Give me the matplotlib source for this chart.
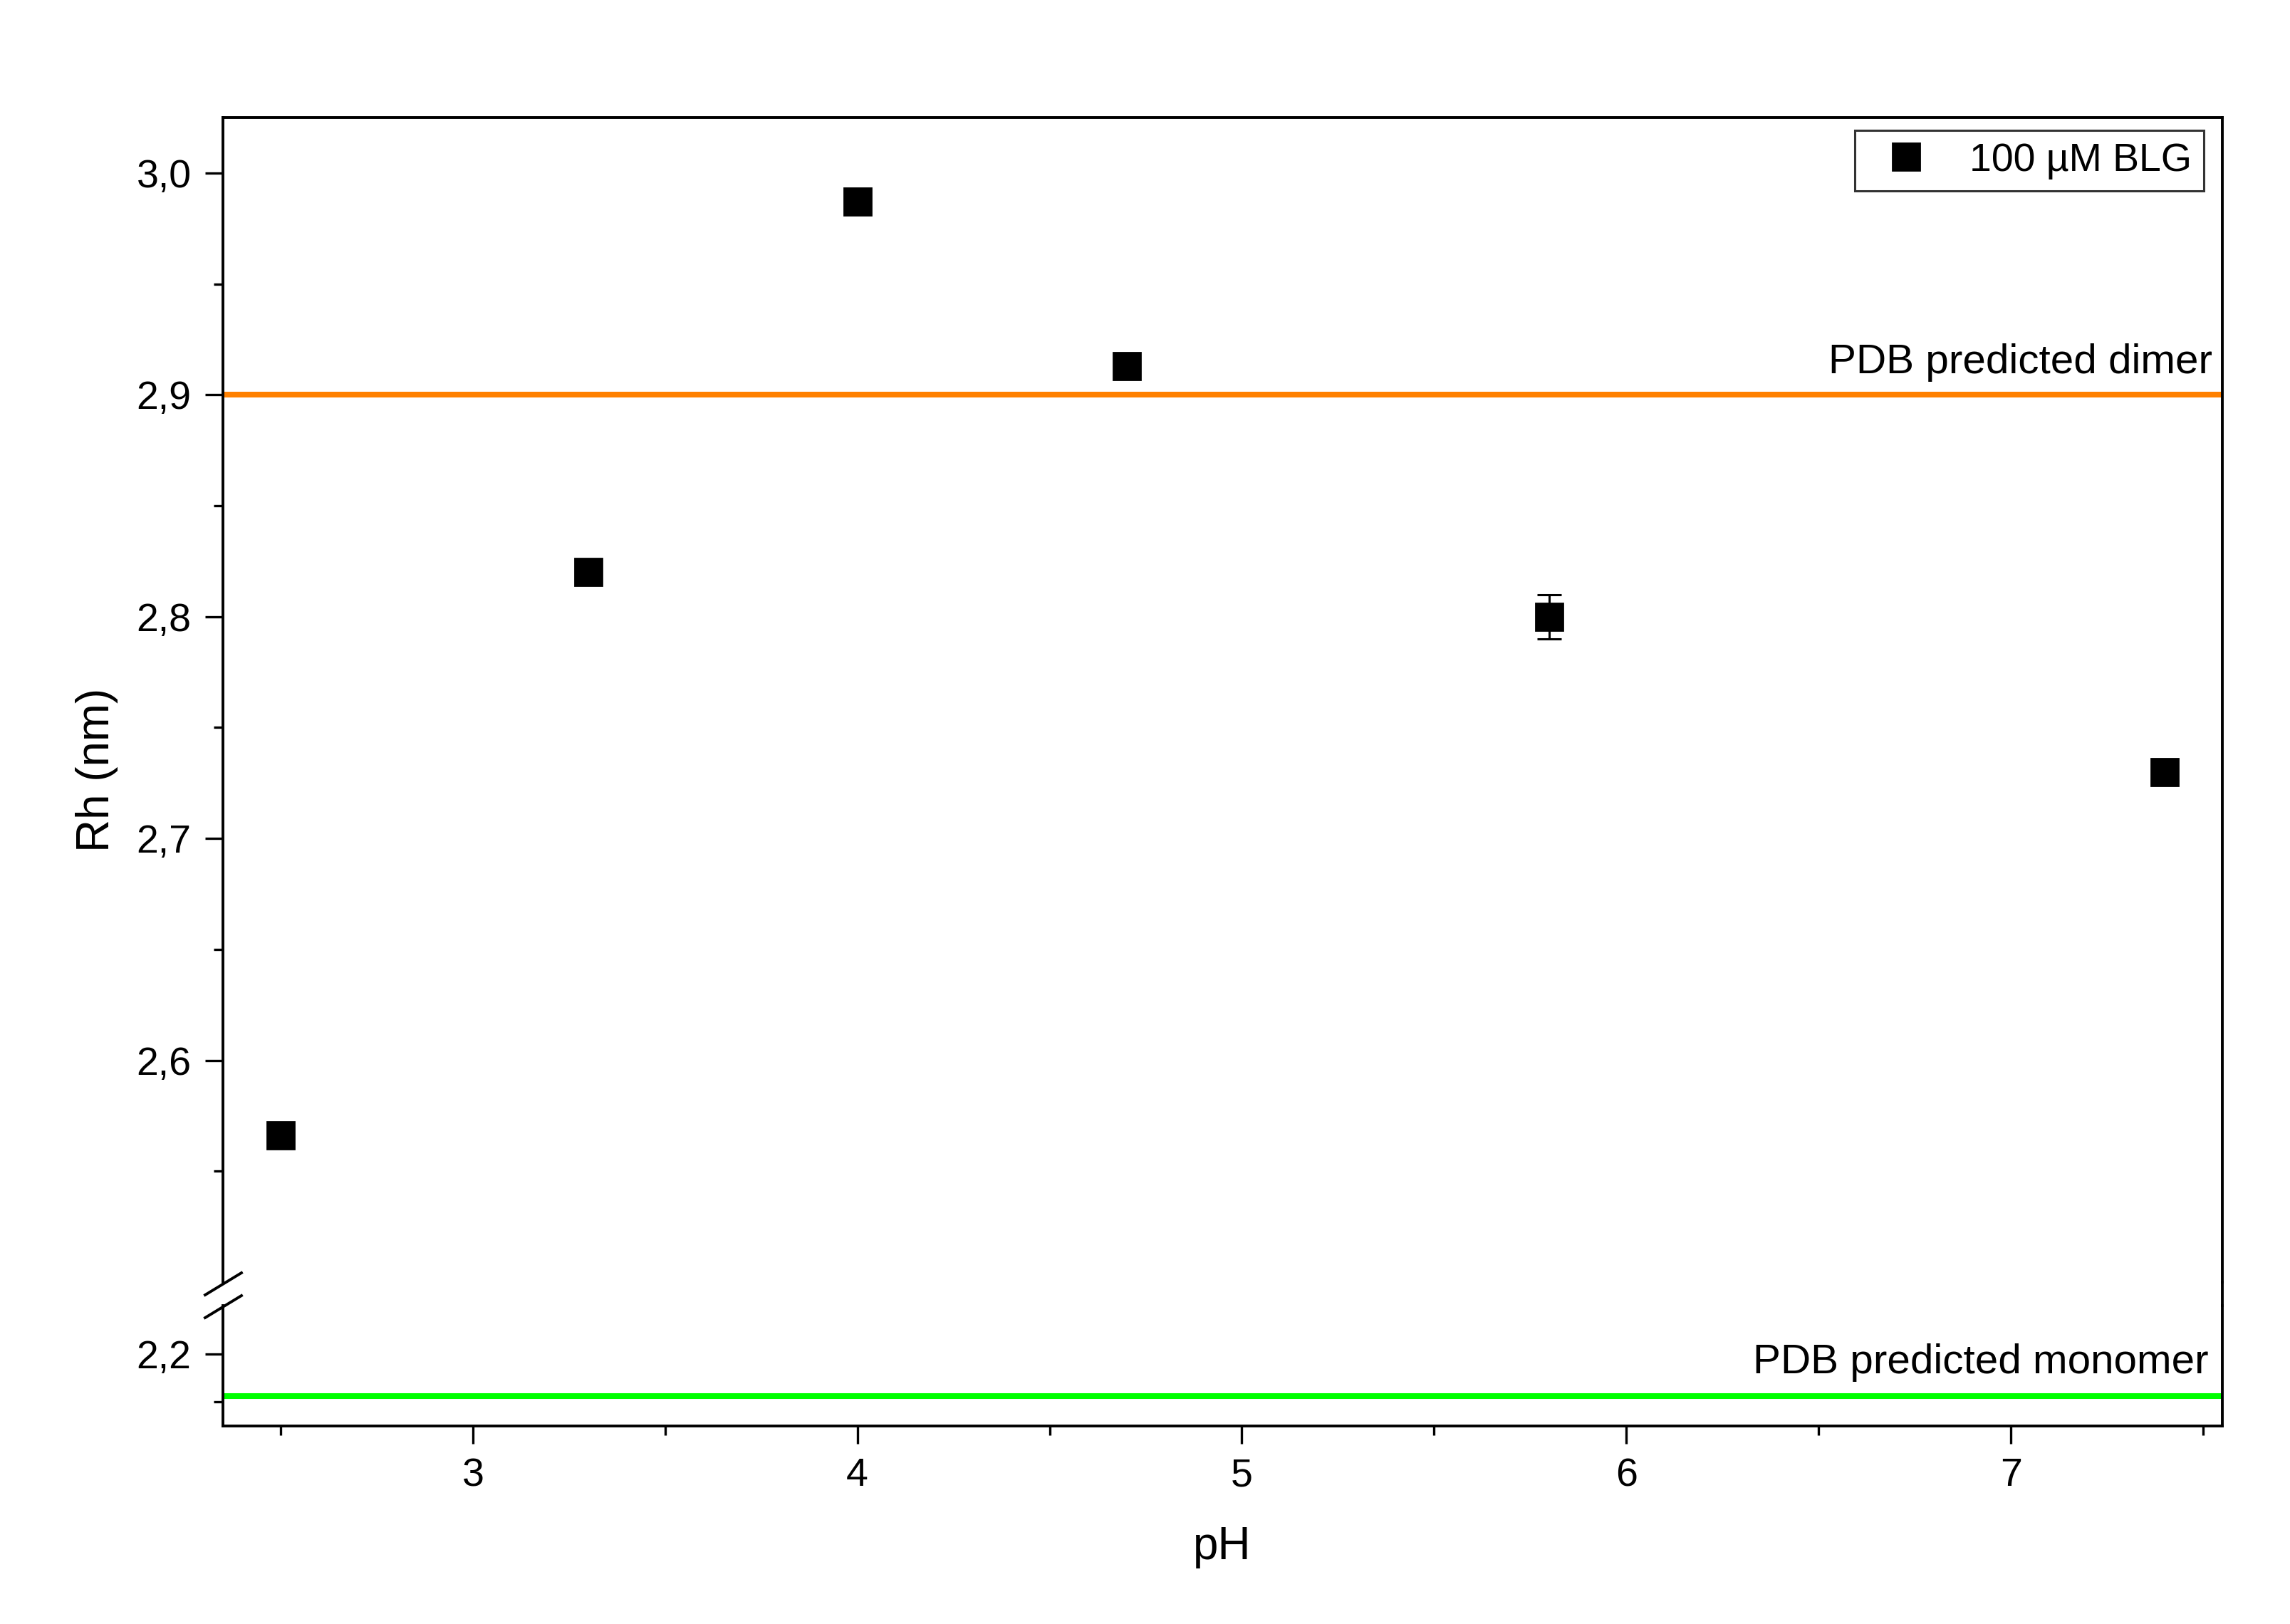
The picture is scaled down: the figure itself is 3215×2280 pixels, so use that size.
import numpy as np
import matplotlib
matplotlib.use("Agg")
import matplotlib.pyplot as plt
from matplotlib.ticker import FixedLocator, FuncFormatter, MultipleLocator
from matplotlib.lines import Line2D
import matplotlib.transforms as mtransforms

plt.rcParams['font.family'] = ['Liberation Sans', 'DejaVu Sans']

# data
ph = [2.5, 3.3, 4.0, 4.7, 5.8, 7.4]
rh = [2.566, 2.82, 2.987, 2.913, 2.80, 2.73]
rh_err = [0.0, 0.0, 0.0, 0.0, 0.01, 0.0]
dimer_rh = 2.9
monomer_rh = 2.156
series_label = "100 µM BLG"

W, H = 3216, 2280
fig = plt.figure(figsize=(W / 200, H / 200), dpi=200)

left = 313 / W
width = (3120 - 313) / W
ax_top = fig.add_axes([left, 1 - 1800 / H, width, (1800 - 165) / H])
ax_bot = fig.add_axes([left, 1 - 2002 / H, width, (2002 - 1833) / H])

comma = FuncFormatter(lambda v, p: "{:.1f}".format(v).replace('.', ','))

for ax in (ax_top, ax_bot):
    ax.set_xlim(2.35, 7.55)
    ax.errorbar(ph, rh, yerr=rh_err, fmt='none', ecolor='black',
                elinewidth=1.1, capsize=6, capthick=1.1, zorder=3)
    ax.plot(ph, rh, linestyle='none', marker='s', markersize=13.5,
            color='black', label=series_label, zorder=4)
    ax.axhline(dimer_rh, color='#ff8000', lw=2.9, zorder=2)
    ax.axhline(monomer_rh, color='#00ff00', lw=2.9, zorder=2)
    for s in ax.spines.values():
        s.set_linewidth(1.4)
    ax.tick_params(axis='both', which='major', direction='out', length=9,
                   width=1.2, labelsize=20, pad=7)
    ax.tick_params(axis='both', which='minor', direction='out', length=4.6,
                   width=1.2)
    ax.yaxis.set_major_formatter(comma)

# upper part
ax_top.set_ylim(2.5, 3.025)
ax_top.yaxis.set_major_locator(FixedLocator([2.6, 2.7, 2.8, 2.9, 3.0]))
ax_top.yaxis.set_minor_locator(FixedLocator([2.55, 2.65, 2.75, 2.85, 2.95]))
ax_top.spines['bottom'].set_visible(False)
ax_top.tick_params(axis='x', which='both', bottom=False, labelbottom=False)

# lower part
ax_bot.set_ylim(2.1246, 2.2508)
ax_bot.yaxis.set_major_locator(FixedLocator([2.2]))
ax_bot.yaxis.set_minor_locator(FixedLocator([2.15]))
ax_bot.spines['top'].set_visible(False)
ax_bot.xaxis.set_major_locator(MultipleLocator(1))
ax_bot.xaxis.set_minor_locator(MultipleLocator(0.5))

# line labels
tr_top = mtransforms.blended_transform_factory(ax_top.transAxes, ax_top.transData)
ax_top.annotate("PDB predicted dimer", xy=(1, dimer_rh), xycoords=tr_top,
                xytext=(-5, 11), textcoords='offset points', ha='right',
                va='baseline', fontsize=21)
tr_bot = mtransforms.blended_transform_factory(ax_bot.transAxes, ax_bot.transData)
ax_bot.annotate("PDB predicted monomer", xy=(1, monomer_rh), xycoords=tr_bot,
                xytext=(-7, 11.5), textcoords='offset points', ha='right',
                va='baseline', fontsize=21)

# legend
leg = ax_top.legend(loc='upper right', bbox_to_anchor=(3094 / W, 1 - 183 / H),
                    bbox_transform=fig.transFigure, borderaxespad=0,
                    fontsize=20, frameon=True, fancybox=False, handlelength=2.0,
                    handletextpad=0.6, borderpad=0.3)
leg.get_frame().set_edgecolor('black')
leg.get_frame().set_linewidth(1.1)

# right spine across the gap and break marks on the left spine
fig.add_artist(Line2D([3120 / W, 3120 / W], [1 - 1800 / H, 1 - 1833 / H],
                      color='black', lw=1.4, transform=fig.transFigure))
for yc in (1802, 1834):
    fig.add_artist(Line2D([288 / W, 339 / W], [1 - (yc + 16) / H, 1 - (yc - 15) / H],
                          color='black', lw=1.4, transform=fig.transFigure))

fig.text(136 / W, 1 - 1081 / H, "Rh (nm)", rotation=90, ha='center',
         va='center', fontsize=23)
fig.text(1716 / W, 1 - 2172 / H, "pH", ha='center', va='center', fontsize=23)

fig.savefig("out.png", dpi=200)
